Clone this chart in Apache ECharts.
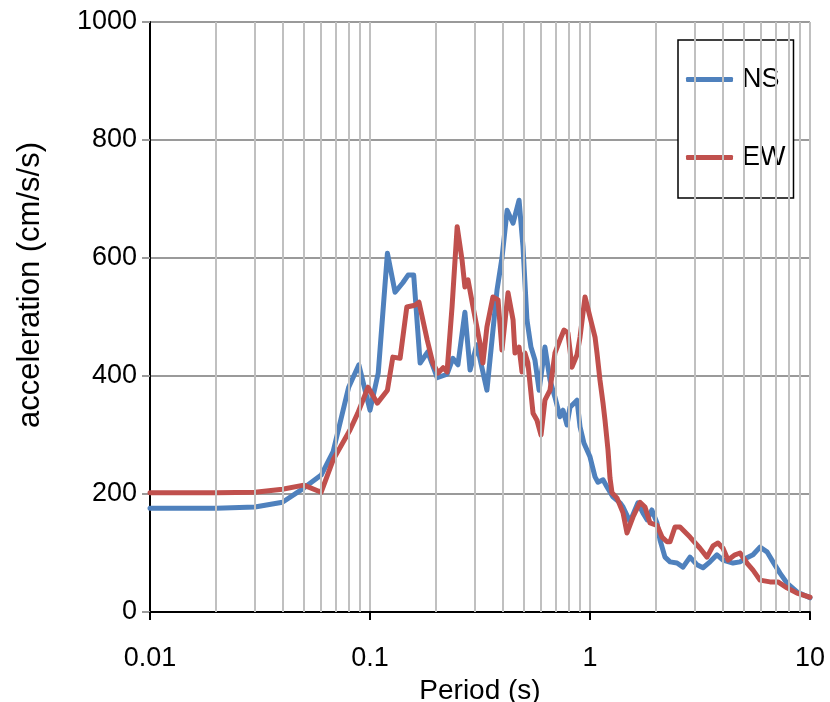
<!DOCTYPE html>
<html>
<head>
<meta charset="utf-8">
<script src="https://cdn.jsdelivr.net/npm/echarts@6/dist/echarts.min.js"></script>
<style>
html,body{margin:0;padding:0;background:#fff;}
#chart{width:830px;height:702px;}
</style>
</head>
<body>
<div id="chart"></div>
<script>
// Period (s) and spectral acceleration (cm/s/s)
const periodNS = [0.01,0.02,0.03,0.04,0.05,0.06,0.068,0.08,0.089,0.1,0.109,0.12,0.13,0.141,0.149,0.158,0.169,0.183,0.202,0.224,0.238,0.251,0.27,0.285,0.306,0.34,0.378,0.398,0.42,0.447,0.476,0.496,0.517,0.539,0.562,0.587,0.624,0.658,0.693,0.73,0.754,0.786,0.811,0.873,0.901,0.939,1.0,1.054,1.087,1.146,1.195,1.272,1.369,1.413,1.52,1.65,1.74,1.82,1.91,2.016,2.081,2.192,2.311,2.486,2.647,2.848,3.064,3.263,3.511,3.777,4.023,4.467,4.806,5.17,5.508,5.926,6.375,6.79,7.305,7.86,8.73,10];
const accNS = [176,176,178,186,210,232,272,381,419,342,405,608,542,558,571,571,422,441,397,403,430,419,508,410,453,376,546,600,681,659,698,619,495,449,427,376,449,393,364,331,342,317,347,359,314,286,263,229,220,224,212,195,185,178,153,185,168,156,173,151,122,93,85,83,76,93,80,75,85,97,88,83,85,92,97,110,102,85,66,49,34,24];

const periodEW = [0.01,0.02,0.03,0.04,0.05,0.06,0.068,0.081,0.088,0.098,0.108,0.12,0.127,0.137,0.147,0.16,0.167,0.182,0.193,0.204,0.215,0.224,0.236,0.249,0.262,0.27,0.279,0.294,0.316,0.326,0.34,0.362,0.382,0.398,0.424,0.447,0.456,0.476,0.491,0.506,0.522,0.551,0.574,0.599,0.624,0.658,0.693,0.73,0.762,0.794,0.828,0.873,0.901,0.949,1.0,1.054,1.076,1.11,1.146,1.17,1.207,1.233,1.259,1.327,1.413,1.473,1.568,1.688,1.778,1.874,2.016,2.125,2.239,2.311,2.434,2.566,2.848,3.162,3.402,3.624,3.818,4.023,4.24,4.561,4.806,5.17,5.508,5.926,6.579,7.15,7.86,8.73,10];
const accEW = [202,202,203,208,215,203,258,308,337,381,354,376,432,430,517,520,525,461,422,405,414,407,517,653,597,551,563,517,456,422,483,534,529,444,541,495,439,449,407,439,422,337,325,300,359,376,439,461,478,473,415,436,466,534,500,466,439,393,354,325,275,227,202,193,168,134,161,186,178,151,147,127,119,119,144,144,127,108,93,112,117,108,88,97,100,83,71,54,51,51,41,32,25];

const seriesNames = ['NS','EW'];
const xTicks = [0.01, 0.1, 1, 10];
const minorGrid = [0.02,0.03,0.04,0.05,0.06,0.07,0.08,0.09,0.2,0.3,0.4,0.5,0.6,0.7,0.8,0.9,2,3,4,5,6,7,8,9];
const xTitle = 'Period (s)';
const yTitle = 'acceleration (cm/s/s)';

const zip = (xs, ys) => xs.map((x, i) => [x, ys[i]]);
const FONT = '"Liberation Sans", Arial, sans-serif';

const chart = echarts.init(document.getElementById('chart'), null, {renderer: 'canvas'});
chart.setOption({
  animation: false,
  backgroundColor: '#fff',
  textStyle: {fontFamily: FONT, color: '#000'},
  grid: {left: 150, right: 20, top: 22, bottom: 90, containLabel: false, outerBoundsMode: 'none'},
  graphic: [{
    type: 'text', x: 30, y: 285, rotation: Math.PI / 2, silent: true,
    style: {text: yTitle, fontFamily: FONT, fontSize: 31, fill: '#000', align: 'center', verticalAlign: 'middle'}
  }],
  legend: {
    orient: 'vertical',
    align: 'left',
    left: 678, top: 40,
    data: seriesNames,
    icon: 'roundRect',
    itemWidth: 47, itemHeight: 5,
    itemGap: 51,
    padding: [26, 8, 27, 8],
    borderColor: '#000', borderWidth: 1.5,
    backgroundColor: '#fff',
    textStyle: {fontFamily: FONT, fontSize: 27, color: '#000', lineHeight: 26, padding: [0, 0, 0, 4]},
    selectedMode: false
  },
  xAxis: {
    type: 'log', logBase: 10, min: 0.01, max: 10,
    name: xTitle, nameLocation: 'middle', nameGap: 52,
    nameTextStyle: {fontFamily: FONT, fontSize: 28, color: '#000'},
    axisLine: {show: true, onZero: false, lineStyle: {color: '#000', width: 2}},
    axisTick: {show: true, length: 8, lineStyle: {color: '#000', width: 2}},
    axisLabel: {fontFamily: FONT, fontSize: 27, color: '#000', margin: 33,
      formatter: v => { const t = xTicks.find(k => Math.abs(k - v) / k < 1e-6); return t === undefined ? '' : String(t); }},
    splitLine: {show: true, lineStyle: {color: '#c0c0c0', width: 2}},
    minorTick: {show: false}, minorSplitLine: {show: false}
  },
  yAxis: {
    type: 'value', min: 0, max: 1000, interval: 200,
    axisLine: {show: true, lineStyle: {color: '#000', width: 2}},
    axisTick: {show: true, length: 8, lineStyle: {color: '#9a9a9a', width: 2}},
    axisLabel: {fontFamily: FONT, fontSize: 27, color: '#000', margin: 13, formatter: v => String(v)},
    splitLine: {show: true, lineStyle: {color: '#9a9a9a', width: 2}}
  },
  series: [
    {
      name: '_grid', type: 'line', data: [], z: 1, silent: true,
      markLine: {
        silent: true, symbol: ['none', 'none'], animation: false,
        label: {show: false},
        lineStyle: {color: '#c0c0c0', width: 2, type: 'solid'},
        emphasis: {disabled: true},
        data: minorGrid.map(v => ({xAxis: v}))
      }
    },
    {
      name: seriesNames[0], type: 'line', z: 3,
      data: zip(periodNS, accNS),
      showSymbol: false, symbol: 'none',
      lineStyle: {color: '#4F81BD', width: 5, join: 'round', cap: 'round'},
      itemStyle: {color: '#4F81BD'}
    },
    {
      name: seriesNames[1], type: 'line', z: 4,
      data: zip(periodEW, accEW),
      showSymbol: false, symbol: 'none',
      lineStyle: {color: '#C0504D', width: 5, join: 'round', cap: 'round'},
      itemStyle: {color: '#C0504D'}
    }
  ]
});
</script>
</body>
</html>
